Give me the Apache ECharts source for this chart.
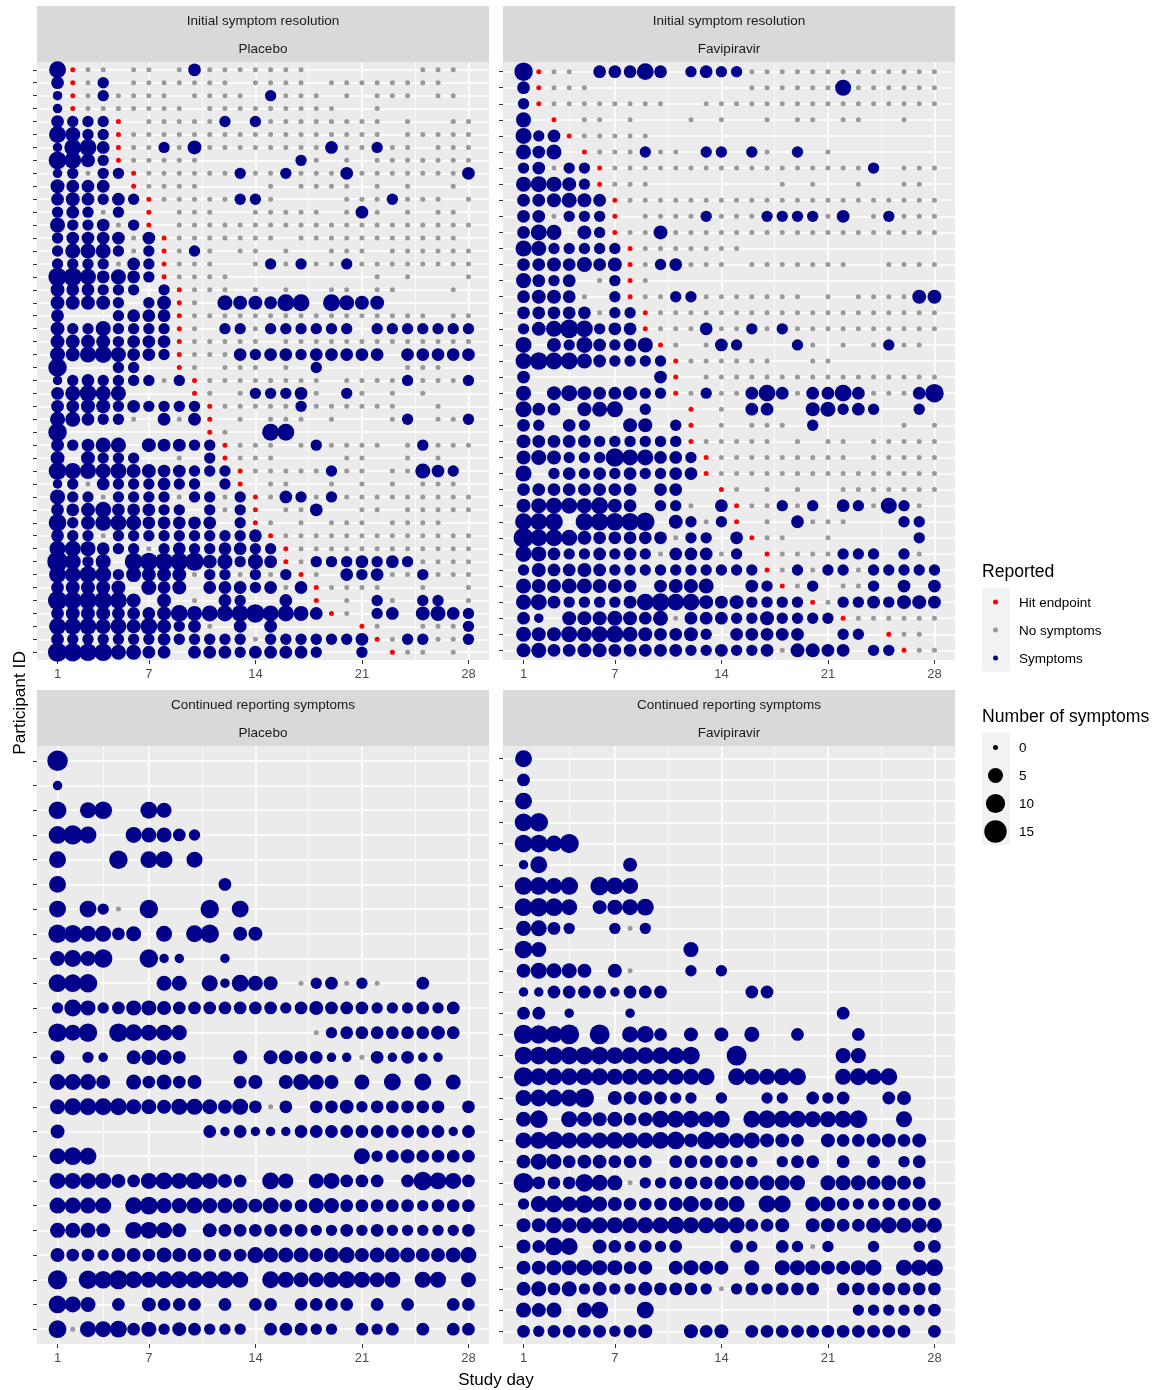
<!DOCTYPE html>
<html>
<head>
<meta charset="utf-8">
<title>Symptom reporting</title>
<script src="https://cdn.jsdelivr.net/npm/echarts@6/dist/echarts.min.js"></script>
<style>
  html, body { margin: 0; padding: 0; background: #fff; }
  #main { width: 1155px; height: 1390px; }
</style>
</head>
<body>
<div id="main"></div>
<script>
// one string per participant, one character per study day, grouped in fives
// . = not reported, 0 = no symptoms, r = hit endpoint, 1-9 a-f = number of symptoms
const initialPlacebo = [
  "7r00. 00.03 00000 00... ....0 00.",
  "3r02. 00000 00.00 00.00 00000 0..",
  "1r020 000.0 000.2 000.0 .000. 00.",
  "1r000 0000. 00000 0000. .0... ...",
  "3222r .0000 02.20 00000 00.0. .00",
  "7522r 00000 00000 00000 00.00 000",
  "1773r 00204 00000 00030 0200. 000",
  "8742r 00000 ..... .20.0 .0000 000",
  "12022 r0000 00200 20003 00000 003",
  "4333. r0000 ....0 .0000 .0.0. .0.",
  "34323 2r000 00220 ....0 00200 0.0",
  "23202 .r.00 0..00 000.0 30.0. 00.",
  "52230 2r.00 00000 00000 00000 000",
  "23333 03r00 00000 .0000 00000 00.",
  "25552 02r02 0.00. 0..00 0.000 000",
  "22220 32r00 0..02 02002 00000 000",
  "99635 32r00 00... ..... .0.0. ..0",
  "43322 2.2r0 00.0. 0..00 .00.. .0.",
  "44442 .24r0 .5443 77.75 44... ...",
  "3...2 333r0 00000 00000 00000 .00",
  "42252 222r0 .2202 22222 .2222 222",
  "44442 333r0 0000. 00000 00000 000",
  "54675 332r0 00323 32333 33.33 333",
  "9...2 2..r0 .000. 0.2.. ...00 0..",
  "12322 2202r 00000 000.0 00020 002",
  "35755 ....r 0.022 230.2 0.0.0 ...",
  "33442 32222 r0000 02000 000.. 0..",
  "55322 0.303 r.0.0 00.0. ..02. 002",
  "9.... ..... r0..7 7.... ..... ...",
  "32355 .4332 2r000 .0200 00.02 000",
  "4.422 2..0. 2r000 ....0 0..0. 0..",
  "86656 44332 22r00 00020 0.005 32.",
  "12032 22322 .2r.0 0..0. 0.0.0 00.",
  "52202 22202 202r0 32020 00000 000",
  "33463 3322. 202r. 003.. 00.00 000",
  "82466 53333 3.2r0 .0.00 0.000 0..",
  "32202 22222 2223r 00000 00000 000",
  "66532 20232 23322 r0000 00000 000",
  "c625. 88889 45253 r0222 32320 000",
  "76762 54440 22020 2r0.3 23002 000",
  "34444 .534. 33323 03r00 00..0 ..0",
  "a8887 4.4.0 .32.. 3.r.0 .20.2 2.0",
  "34443 33475 66796 653r0 .23.4 532",
  "77756 47423 0.3.3 ..... r0..0 002",
  "32222 22322 22202 22222 3r022 002",
  "a9885 533.3 33233 332.. 2.r00 .0."
];
const initialFavipiravir = [
  "9r00. 33373 .2322 00000 00000 000",
  "3r000 ..... ..... 00000 06000 000",
  "2r000 00000 ..000 00000 00000 000",
  "5.r.0 0.0.. .0.0. .0.00 .00.. 0..",
  "623r0 0000. ..... ..... ..... ...",
  "535.r 00020 0.22. 20.2. 0.... ...",
  "23022 r0000 00000 00000 0002. 000",
  "56542 r000. ..... ..0.0 ..0.. 00.",
  "33454 3r000 00000 00000 00000 000",
  "33022 2r.00 00200 02222 03.02 000",
  "365.4 2r004 00000 00000 00000 000",
  "65222 22r00 00000 ..... ..... ...",
  "33435 34r02 3000. 00000 00..0 000",
  "5323. 02r0. ..... ..... ..... ...",
  "34430 .2r00 22000 0000. 0.000 044",
  "33333 022r0 00000 00000 00000 000",
  "24697 233r0 00300 20200 00000 000",
  "6.426 3235r 0.032 ...20 .0.02 00.",
  "68775 32222 r0000 00..0 0.... ...",
  "3.... ....3 r.000 00000 00000 000",
  "5.464 33422 r0200 37303 37300 039",
  "633.4 56.2. .r.0. 33..4 5232. .2.",
  "32.32 ..44. 2r.0. 000.2 ..... 0.0",
  "43333 22222 2r000 00.0. 00.00 000",
  "45422 29663 32r00 00000 00.00 000",
  "6.232 32322 33r00 00000 00000 000",
  "33333 333.3 3..r0 .0.0. .0000 000",
  "45665 743.2 20.3r 00202 .3206 20.",
  "778.8 8889. 4202r .0.30 00... 22.",
  "b7764 33333 022.3 r00.. 0.... .2.",
  "65322 32320 33302 .r000 0222. 20.",
  "24334 32222 22222 2r020 22022 222",
  "54455 443.3 445.. 32r02 .002. 3.3",
  "56322 22378 77434 2222r 02232 443",
  "31.44 45435 03332 24222 2r000 000",
  "54465 67543 342.3 3333. .22.r 00.",
  "45334 43333 32232 23044 33.22 r00"
];
const continuedPlacebo = [
  "c",
  "1",
  "8.68. .75",
  "8a7.. 65532",
  "7...9 .77.6",
  "7.... ..... .3",
  "7.720 .9... 9.7",
  "98663 5.6.7 9.44",
  "5759. .911. .1",
  "889.. ..55. 61754 .0230 20..3",
  "27523 55433 33333 23433 32223 23.",
  "969.9 7665. ..... ..023 33333 43.",
  "4.21. 4553. ..4.4 43311 03131 1..",
  "6664. 53534 ..34. 4654. 5.7.7 .5.",
  "57777 55466 54630 3.334 23333 3.3",
  "4.... ..... 31311 13333 33333 313",
  "687.. ..... ..... ..... 62343 333",
  "66664 36767 643.7 5.563 33.39 763",
  "6666. 78556 55546 33553 33332 333",
  "5554. 7764. 43333 33223 23222 223",
  "43324 43544 33365 55456 45554 456",
  "a.98a 76777 776.7 65567 656.6 6.5",
  "865.3 .4333 .3.33 .3333 .3.3. .33",
  "80667 35243 222.3 3322. 323.3 .33"
];
const continuedFavipiravir = [
  "7",
  "3",
  "7",
  "89",
  "886a",
  "17... ..4",
  "8868. 976",
  "8986. 4567",
  "5632. .202",
  "85... ..... .5",
  "46554 .40.. .2.2",
  "11333 31333 ..... 33",
  "33.1. ..1.. ..... ..... .3",
  "a97b. b.673 .4.4. 5..3. ..3",
  "88888 87777 78..b ..... .55",
  "a7777 76666 667.7 6677. .6767",
  "6777a .4343 22.2. .22.3 23..3 4",
  "58.65 45347 7767. 78776 678.. 6",
  "67866 67667 84865 6443. 43344 34.",
  "46534 4333. 33333 2.233 .3.3. 23.",
  "b3338 65022 33344 4555. 55545 43.",
  "26758 54333 46346 .77.5 53223 343",
  "44656 66666 76666 334.4 43356 555",
  "4387. 43232 3...3 2.320 2..2. .23",
  "44556 5534. 4544. 5.555 4456. 667",
  "45352 42243 33202 32333 .3333 333",
  "545.5 7..7. ..... ..... ..222 223",
  "32333 3234. .434. 33333 33333 3.3"
];
const dayTicks = [1, 7, 14, 21, 28];
const dayMinorTicks = [4, 10.5, 17.5, 24.5];
const reportedNames = ["Hit endpoint", "No symptoms", "Symptoms"];
const sizeBreaks = [0, 5, 10, 15];

const NAVY = "#00008B";
const GREY = "#999999";
const RED = "#FF0000";
const FONT = '"Liberation Sans", Arial, sans-serif';

// ggplot area scale, 0 -> small dot, 15 -> largest dot
function dotSize(n) {
  return 5 + 17.4 * Math.sqrt(n / 15);
}

function parseRows(rows) {
  const out = { symptoms: [], none: [], endpoint: [] };
  rows.forEach(function (row, rowIndex) {
    row.replace(/ /g, "").split("").forEach(function (ch, i) {
      if (ch === ".") return;
      if (ch === "r") out.endpoint.push([i + 1, rowIndex, 0]);
      else if (ch === "0") out.none.push([i + 1, rowIndex, 0]);
      else out.symptoms.push([i + 1, rowIndex, parseInt(ch, 16)]);
    });
  });
  return out;
}

const panels = [
  { rows: initialPlacebo, left: 37, top: 62, height: 598, stripTop: 6, strip: ["Initial symptom resolution", "Placebo"] },
  { rows: initialFavipiravir, left: 503, top: 62, height: 598, stripTop: 6, strip: ["Initial symptom resolution", "Favipiravir"] },
  { rows: continuedPlacebo, left: 37, top: 746, height: 598, stripTop: 690, strip: ["Continued reporting symptoms", "Placebo"] },
  { rows: continuedFavipiravir, left: 503, top: 746, height: 598, stripTop: 690, strip: ["Continued reporting symptoms", "Favipiravir"] }
];
const PANEL_W = 452;

let option = {
  animation: false,
  backgroundColor: "#fff",
  textStyle: { fontFamily: FONT },
  grid: [],
  xAxis: [],
  yAxis: [],
  series: [],
  graphic: []
};

panels.forEach(function (p, i) {
  const marks = parseRows(p.rows);
  const rowTicks = p.rows.map(function (r, k) { return k; });

  option.grid.push({
    left: p.left, top: p.top, width: PANEL_W, height: p.height,
    show: true, backgroundColor: "#EBEBEB", borderWidth: 0
  });
  // main day axis
  option.xAxis.push({
    type: "value", gridIndex: i, min: -0.35, max: 29.35, position: "bottom",
    axisLine: { show: false, onZero: false },
    axisTick: { length: 4, lineStyle: { color: "#333333", width: 1 }, customValues: dayTicks },
    axisLabel: { color: "#4D4D4D", fontSize: 13, margin: 8, fontFamily: FONT, customValues: dayTicks },
    splitLine: { show: true, lineStyle: { color: "#FFFFFF", width: 1.5 } }
  });
  // second axis only for the thin gridlines
  option.xAxis.push({
    type: "value", gridIndex: i, min: -0.35, max: 29.35, position: "top",
    axisLine: { show: false, onZero: false },
    axisTick: { show: false, customValues: dayMinorTicks },
    axisLabel: { show: false, customValues: dayMinorTicks },
    splitLine: { show: true, lineStyle: { color: "#FFFFFF", width: 0.7 } }
  });
  option.yAxis.push({
    type: "value", gridIndex: i, inverse: true, min: -0.6, max: p.rows.length - 0.4, position: "left",
    axisLine: { show: false, onZero: false },
    axisTick: { length: 4, lineStyle: { color: "#333333", width: 1 }, customValues: rowTicks },
    axisLabel: { show: false, customValues: rowTicks },
    splitLine: { show: true, lineStyle: { color: "#FFFFFF", width: 1.5 } }
  });

  const xIndex = i * 2;
  [[reportedNames[1], marks.none, GREY], [reportedNames[2], marks.symptoms, NAVY], [reportedNames[0], marks.endpoint, RED]].forEach(function (s) {
    option.series.push({
      name: s[0],
      type: "scatter",
      xAxisIndex: xIndex,
      yAxisIndex: i,
      data: s[1],
      symbol: "circle",
      symbolSize: function (v) { return dotSize(v[2]); },
      itemStyle: { color: s[2], opacity: 1 },
      silent: true
    });
  });

  // strip header
  option.graphic.push({
    type: "rect", silent: true,
    shape: { x: p.left, y: p.stripTop, width: PANEL_W, height: p.top - p.stripTop },
    style: { fill: "#D9D9D9" }
  });
  p.strip.forEach(function (txt, k) {
    option.graphic.push({
      type: "text", silent: true,
      x: p.left + PANEL_W / 2, y: p.stripTop + 15 + k * 28.5,
      style: { text: txt, fill: "#1A1A1A", font: "13.5px " + FONT, textAlign: "center", textVerticalAlign: "middle" }
    });
  });
});

function addText(txt, x, y, size, align, color) {
  option.graphic.push({
    type: "text", silent: true, x: x, y: y,
    style: { text: txt, fill: color || "#000", font: size + "px " + FONT, textAlign: align || "left", textVerticalAlign: "middle" }
  });
}

// axis titles
addText("Study day", 496, 1380, 17, "center");
option.graphic.push({
  type: "text", silent: true, x: 20, y: 703, rotation: Math.PI / 2,
  style: { text: "Participant ID", fill: "#000", font: "17.3px " + FONT, textAlign: "center", textVerticalAlign: "middle" }
});

// legends
addText("Reported", 982, 572, 17.6);
const LEGEND_COLORS = [RED, GREY, NAVY];
option.graphic.push({ type: "rect", silent: true, shape: { x: 982, y: 587.5, width: 28, height: 84 }, style: { fill: "#F2F2F2" } });
reportedNames.forEach(function (name, k) {
  option.graphic.push({ type: "circle", silent: true, shape: { cx: 995.5, cy: 602 + k * 28, r: 2.5 }, style: { fill: LEGEND_COLORS[k] } });
  addText(name, 1019, 603 + k * 28, 13.5);
});

addText("Number of symptoms", 982, 717, 17.6);
option.graphic.push({ type: "rect", silent: true, shape: { x: 982, y: 733, width: 28, height: 112 }, style: { fill: "#F2F2F2" } });
sizeBreaks.forEach(function (n, k) {
  option.graphic.push({ type: "circle", silent: true, shape: { cx: 995.5, cy: 747.5 + k * 28, r: dotSize(n) / 2 }, style: { fill: "#000" } });
  addText(String(n), 1019, 748 + k * 28, 13.5);
});

const chartObj = echarts.init(document.getElementById("main"));
chartObj.setOption(option);
</script>
</body>
</html>
